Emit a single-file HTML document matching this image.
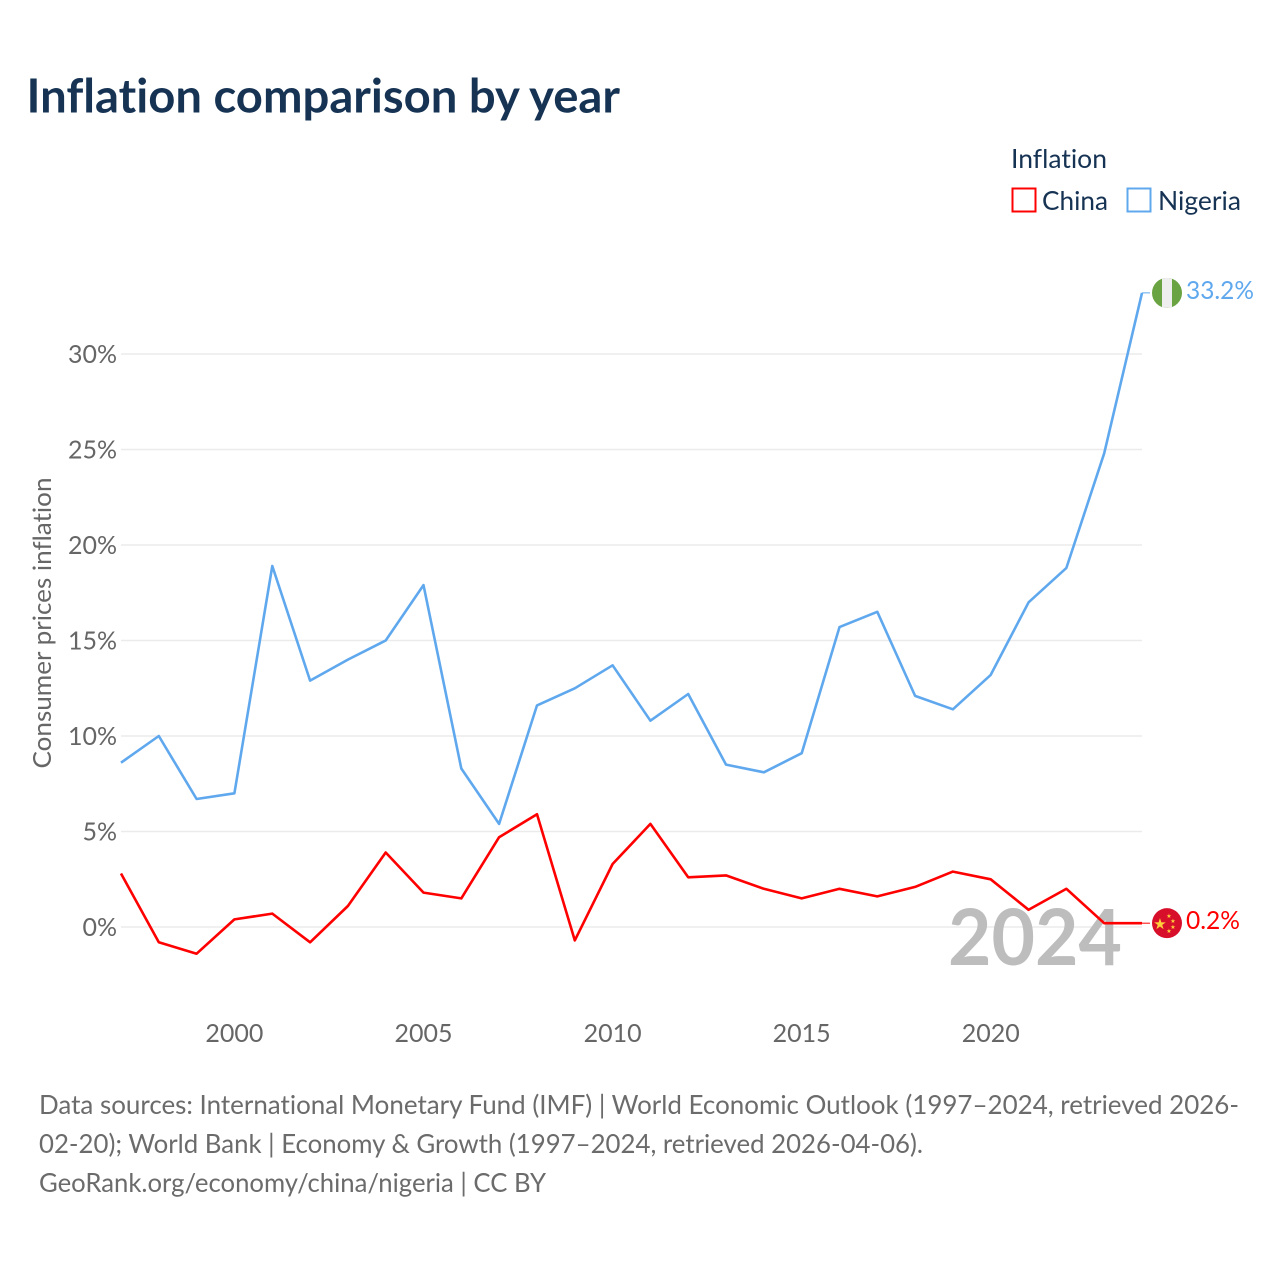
<!DOCTYPE html>
<html lang="en">
<head>
<meta charset="utf-8">
<title>Inflation comparison by year</title>
<style>
html,body{margin:0;padding:0;background:#fff;}
svg{display:block;}
text{font-family:"Lato","Carlito","Liberation Sans",sans-serif;font-variant-ligatures:none;}
</style>
</head>
<body>
<svg id="chart" xmlns="http://www.w3.org/2000/svg" width="1280" height="1280" viewBox="0 0 1280 1280">
  <rect width="1280" height="1280" fill="#fff"/>
  <text x="26.5" y="112.5" font-size="47" font-weight="700" fill="#163354" textLength="593.5" lengthAdjust="spacingAndGlyphs">Inflation comparison by year</text>

  <text x="1011" y="168" font-size="26" fill="#163354" textLength="96" lengthAdjust="spacingAndGlyphs">Inflation</text>
  <g>
    <rect x="1012.5" y="188.5" width="23" height="23" fill="none" stroke="#ff0000" stroke-width="2"/>
    <text x="1042" y="210" font-size="26" fill="#163354" textLength="66" lengthAdjust="spacingAndGlyphs">China</text>
  </g>
  <g>
    <rect x="1127.5" y="188.5" width="23" height="23" fill="none" stroke="#5fa8ee" stroke-width="2"/>
    <text x="1158" y="210" font-size="26" fill="#163354" textLength="83" lengthAdjust="spacingAndGlyphs">Nigeria</text>
  </g>

  <text transform="translate(51,623) rotate(-90)" text-anchor="middle" font-size="25" fill="#666" textLength="291" lengthAdjust="spacingAndGlyphs">Consumer prices inflation</text>

  <g id="grid"></g>
  <g id="yticks"></g>
  <g id="xticks"></g>

  <text x="948" y="965" font-size="78" font-weight="700" fill="#bdbdbd" textLength="174" lengthAdjust="spacingAndGlyphs">2024</text>

  <g id="series"></g>

  <defs>
    <clipPath id="ngClip"><circle cx="1167" cy="292" r="15"/></clipPath>
  </defs>
  <g id="flagNigeria">
    <g clip-path="url(#ngClip)">
      <rect x="1152" y="277" width="30" height="30" fill="#6aa342"/>
      <rect x="1162" y="277" width="10" height="30" fill="#eeeeee"/>
    </g>
  </g>
  <g id="flagChina">
    <circle cx="1167" cy="922" r="15" fill="#d80f2b"/>
    <text x="1160" y="928" text-anchor="middle" font-size="15" fill="#ffd23c" style='font-family:"DejaVu Sans",sans-serif'>★</text>
    <text x="1169" y="917" text-anchor="middle" font-size="6" fill="#ffd23c" style='font-family:"DejaVu Sans",sans-serif'>★</text>
    <text x="1173" y="922" text-anchor="middle" font-size="6" fill="#ffd23c" style='font-family:"DejaVu Sans",sans-serif'>★</text>
    <text x="1173" y="928" text-anchor="middle" font-size="6" fill="#ffd23c" style='font-family:"DejaVu Sans",sans-serif'>★</text>
    <text x="1169" y="932" text-anchor="middle" font-size="6" fill="#ffd23c" style='font-family:"DejaVu Sans",sans-serif'>★</text>
  </g>
  <g id="endLabels"></g>

  <g font-size="26" fill="#6b6b6b">
    <text x="39" y="1114" textLength="1200" lengthAdjust="spacingAndGlyphs">Data sources: International Monetary Fund (IMF) | World Economic Outlook (1997–2024, retrieved 2026-</text>
    <text x="39" y="1153" textLength="884" lengthAdjust="spacingAndGlyphs">02-20); World Bank | Economy &amp; Growth (1997–2024, retrieved 2026-04-06).</text>
    <text x="39" y="1192" textLength="507" lengthAdjust="spacingAndGlyphs">GeoRank.org/economy/china/nigeria | CC BY</text>
  </g>
</svg>
<script>
const years = [1997,1998,1999,2000,2001,2002,2003,2004,2005,2006,2007,2008,2009,2010,2011,2012,2013,2014,2015,2016,2017,2018,2019,2020,2021,2022,2023,2024];
const chinaValues = [2.8,-0.8,-1.4,0.4,0.7,-0.8,1.1,3.9,1.8,1.5,4.7,5.9,-0.7,3.3,5.4,2.6,2.7,2.0,1.5,2.0,1.6,2.1,2.9,2.5,0.9,2.0,0.2,0.2];
const nigeriaValues = [8.6,10.0,6.7,7.0,18.9,12.9,14.0,15.0,17.9,8.3,5.4,11.6,12.5,13.7,10.8,12.2,8.5,8.1,9.1,15.7,16.5,12.1,11.4,13.2,17.0,18.8,24.8,33.2];
const yTickValues = [0,5,10,15,20,25,30];
const xTickValues = [2000,2005,2010,2015,2020];

const NS = 'http://www.w3.org/2000/svg';
function xScale(year){ return 121 + (year - 1997) * (1142 - 121) / 27; }
function yScale(v){ return 927 - v * 19.1; }
function make(tag, attrs, parent, txt){
  const el = document.createElementNS(NS, tag);
  for (const k in attrs) el.setAttribute(k, attrs[k]);
  if (txt !== undefined) el.textContent = txt;
  parent.appendChild(el);
  return el;
}
const grid = document.getElementById('grid');
const yticks = document.getElementById('yticks');
const xticks = document.getElementById('xticks');
const seriesG = document.getElementById('series');
const endLabels = document.getElementById('endLabels');

yTickValues.forEach(function(v){
  const line = make('line', {x1:121, x2:1142, y1:yScale(v), y2:yScale(v), stroke:'#ebebeb', 'stroke-width':1.5}, grid);
  
  
  const t = make('text', {x:117, y:yScale(v)+9, 'text-anchor':'end', 'font-size':25, fill:'#666'}, yticks, v + '%');
  
  
});
xTickValues.forEach(function(y){
  const t = make('text', {x:xScale(y), y:1042, 'text-anchor':'middle', 'font-size':25, fill:'#666'}, xticks, String(y));
  
  
});
function drawSeries(values, color, name){
  const pts = values.map(function(v,i){ return xScale(years[i]).toFixed(1) + ',' + yScale(v).toFixed(1); }).join(' ');
  const p = make('polyline', {points:pts, fill:'none', stroke:color, 'stroke-width':2.6, 'stroke-linejoin':'round'}, seriesG);
  
  
  const lastV = values[values.length-1];
  const ly = yScale(lastV);
  const c = make('line', {x1:1142, x2:1150, y1:ly, y2:ly, stroke:color, 'stroke-width':1}, seriesG);
  
  
  return ly;
}
const chinaY = drawSeries(chinaValues, '#ff0000', 'china-line');
const nigeriaY = drawSeries(nigeriaValues, '#5fa8ee', 'nigeria-line');

document.getElementById('flagChina').setAttribute('transform', 'translate(0,' + (chinaY - 922) + ')');
document.getElementById('flagNigeria').setAttribute('transform', 'translate(0,' + (nigeriaY - 292) + ')');

const chinaLabel = make('text', {x:1186, y:chinaY+6, 'font-size':25, fill:'#ff0000', textLength:54, lengthAdjust:'spacingAndGlyphs'}, endLabels, chinaValues[chinaValues.length-1].toFixed(1) + '%');


const nigeriaLabel = make('text', {x:1186, y:nigeriaY+6, 'font-size':25, fill:'#5fa8ee', textLength:68, lengthAdjust:'spacingAndGlyphs'}, endLabels, nigeriaValues[nigeriaValues.length-1].toFixed(1) + '%');


</script>
</body>
</html>
